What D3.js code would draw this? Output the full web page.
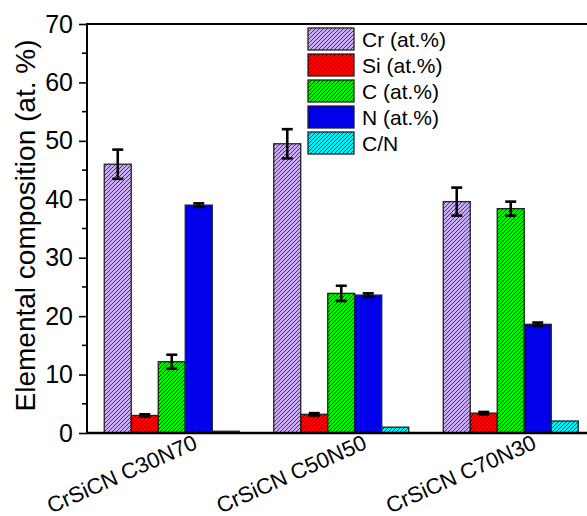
<!DOCTYPE html>
<html>
<head>
<meta charset="utf-8">
<script src="https://cdn.jsdelivr.net/npm/d3@7/dist/d3.min.js"></script>
<style>
  html, body { margin: 0; padding: 0; background: #fff; }
  svg { display: block; font-family: "Liberation Sans", Arial, sans-serif; }
</style>
</head>
<body>
<svg id="chart" width="587" height="516"></svg>
<script>
// Coating samples along the x axis
const samples = ["CrSiCN C30N70", "CrSiCN C50N50", "CrSiCN C70N30"];
// Series shown in each group
const seriesNames = ["Cr (at.%)", "Si (at.%)", "C (at.%)", "N (at.%)", "C/N"];
const seriesColors = ["#cbacf6", "#ff0000", "#00f000", "#0000f0", "#00f0f8"];
// Values per series, one per sample
const crValues = [46.0, 49.5, 39.6];
const siValues = [3.0, 3.2, 3.4];
const cValues = [12.2, 23.9, 38.4];
const nValues = [39.0, 23.6, 18.6];
const cnValues = [0.3, 1.0, 2.05];
// Standard deviations (null = no error bar)
const crErr = [2.5, 2.5, 2.4];
const siErr = [0.2, 0.2, 0.2];
const cErr = [1.2, 1.3, 1.2];
const nErr = [0.3, 0.3, 0.3];
const cnErr = [null, null, null];
const yTicks = [0, 10, 20, 30, 40, 50, 60, 70];

const allValues = [crValues, siValues, cValues, nValues, cnValues];
const allErrors = [crErr, siErr, cErr, nErr, cnErr];

const svg = d3.select("#chart");
const margin = { left: 87, top: 24, bottom: 433 };
const plotRight = 595.5;

const x0 = d3.scaleBand().domain(samples).range([margin.left, plotRight])
  .paddingInner(0.2035).paddingOuter(0.1018);
const x1 = d3.scaleBand().domain(seriesNames).range([0, x0.bandwidth()]);
const y = d3.scaleLinear().domain([0, 70]).range([margin.bottom, margin.top]);

// Hatch patterns, one per series
const defs = svg.append("defs");
seriesNames.forEach((name, i) => {
  const p = defs.append("pattern")
    .attr("id", "hatch" + i)
    .attr("patternUnits", "userSpaceOnUse")
    .attr("width", 4).attr("height", 4);
  p.append("rect").attr("width", 4).attr("height", 4).attr("fill", seriesColors[i]);
  p.append("path")
    .attr("d", "M-1,1 l2,-2 M0,4 l4,-4 M3,5 l2,-2")
    .attr("stroke", "#000").attr("stroke-opacity", 0.75).attr("stroke-width", 0.9);
});

// Flatten into bar records
const bars = [];
samples.forEach((s, gi) => {
  seriesNames.forEach((n, si) => {
    bars.push({ sample: s, series: n, si, value: allValues[si][gi], err: allErrors[si][gi] });
  });
});

const barG = svg.append("g");
barG.selectAll("rect").data(bars).join("rect")
  .attr("x", d => x0(d.sample) + x1(d.series))
  .attr("y", d => y(d.value))
  .attr("width", x1.bandwidth())
  .attr("height", d => y(0) - y(d.value))
  .attr("fill", d => `url(#hatch${d.si})`)
  .attr("stroke", "#222")
  .attr("stroke-width", 1.3);

// Error bars
const errG = svg.append("g").attr("stroke", "#000").attr("stroke-width", 2.6).attr("fill", "none");
bars.filter(d => d.err != null).forEach(d => {
  const cx = x0(d.sample) + x1(d.series) + x1.bandwidth() / 2;
  const y1 = y(d.value + d.err), y2 = y(d.value - d.err);
  errG.append("line").attr("x1", cx).attr("x2", cx).attr("y1", y1).attr("y2", y2);
  errG.append("line").attr("x1", cx - 5.5).attr("x2", cx + 5.5).attr("y1", y1).attr("y2", y1);
  errG.append("line").attr("x1", cx - 5.5).attr("x2", cx + 5.5).attr("y1", y2).attr("y2", y2);
});

// Y axis with major ticks and minor ticks
const yAxis = d3.axisLeft(y).tickValues(yTicks).tickSize(8).tickPadding(6).tickFormat(d3.format("d"));
const yG = svg.append("g").attr("transform", `translate(${margin.left},0)`).call(yAxis);
yG.select(".domain").remove();
yG.selectAll(".tick line").attr("stroke", "#000").attr("stroke-width", 1.6);
yG.selectAll(".tick text").attr("font-size", 25).attr("fill", "#000")
  .attr("font-family", "'Liberation Sans', Arial, sans-serif");
const minor = d3.range(5, 70, 10);
svg.append("g").selectAll("line").data(minor).join("line")
  .attr("x1", margin.left - 5).attr("x2", margin.left)
  .attr("y1", d => y(d)).attr("y2", d => y(d))
  .attr("stroke", "#000").attr("stroke-width", 1.6);

// Frame lines
svg.append("line").attr("x1", margin.left).attr("x2", margin.left)
  .attr("y1", margin.top - 1).attr("y2", margin.bottom + 1)
  .attr("stroke", "#000").attr("stroke-width", 2);
svg.append("line").attr("x1", margin.left - 1).attr("x2", plotRight)
  .attr("y1", margin.bottom).attr("y2", margin.bottom)
  .attr("stroke", "#000").attr("stroke-width", 2.4);
svg.append("line").attr("x1", margin.left - 1).attr("x2", plotRight)
  .attr("y1", margin.top).attr("y2", margin.top)
  .attr("stroke", "#000").attr("stroke-width", 2);

// X category labels, rotated
svg.append("g").selectAll("text").data(samples).join("text")
  .attr("transform", d => `translate(${x0(d) + x0.bandwidth() / 2 + 27},${margin.bottom + 15}) rotate(-24)`)
  .attr("text-anchor", "end")
  .attr("font-size", 22)
  .attr("fill", "#000")
  .text(d => d);

// Y axis title
svg.append("text")
  .attr("transform", `translate(35,${(margin.top + margin.bottom) / 2 - 3}) rotate(-90)`)
  .attr("text-anchor", "middle")
  .attr("font-size", 28)
  .attr("fill", "#000")
  .text("Elemental composition (at. %)");

// Legend
const legend = svg.append("g").attr("transform", "translate(308,28)");
seriesNames.forEach((name, i) => {
  const row = legend.append("g").attr("transform", `translate(0,${i * 26})`);
  row.append("rect").attr("width", 46).attr("height", 22)
    .attr("fill", `url(#hatch${i})`).attr("stroke", "#222").attr("stroke-width", 1.3);
  row.append("text").attr("x", 54).attr("y", 11).attr("dy", "0.36em")
    .attr("font-size", 21).attr("fill", "#000").text(name);
});
</script>
</body>
</html>
